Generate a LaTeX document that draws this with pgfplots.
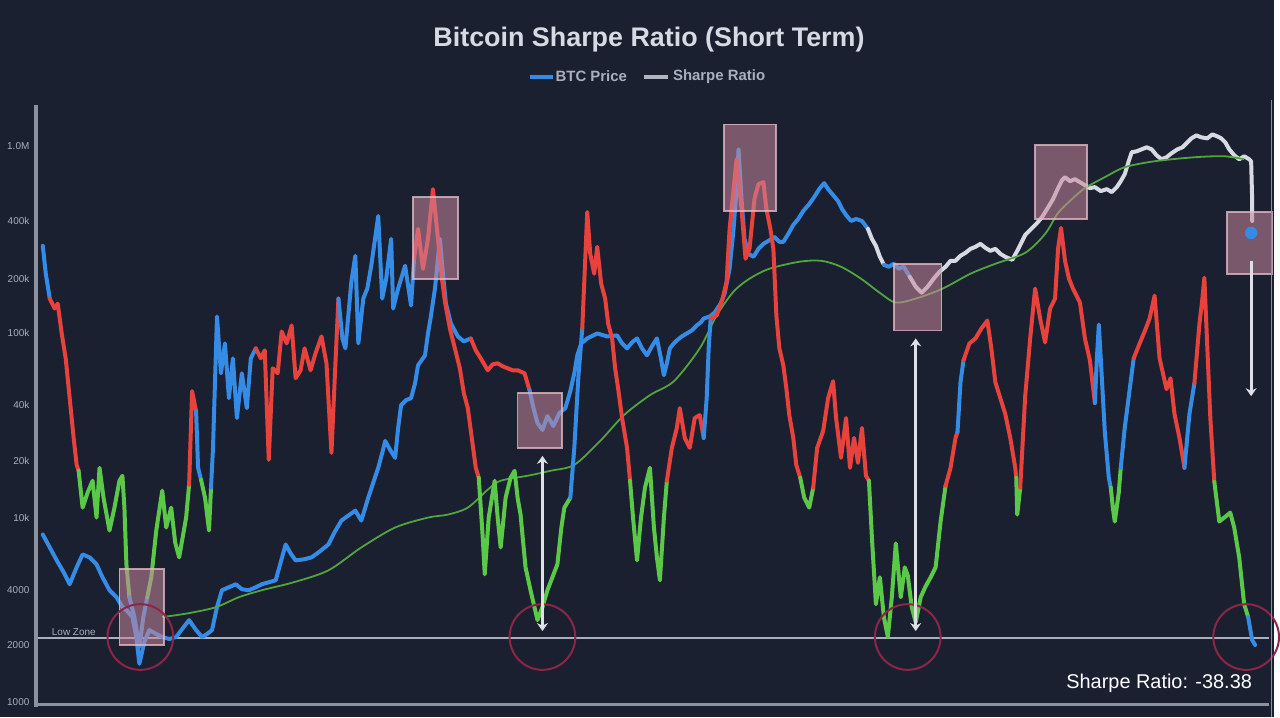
\documentclass[border=0pt]{standalone}
\usepackage{pgfplots}
\pgfplotsset{compat=1.18}
\usepackage{fontspec}
\setmainfont{Liberation Sans}
\usetikzlibrary{arrows.meta}
\definecolor{bgc}{RGB}{27,32,48}
\definecolor{bluec}{RGB}{52,140,230}
\definecolor{redc}{RGB}{232,66,60}
\definecolor{greenc}{RGB}{92,200,72}
\definecolor{whitec}{RGB}{215,218,226}
\definecolor{mac}{RGB}{82,165,62}
\definecolor{axc}{RGB}{140,145,158}
\definecolor{tickc}{RGB}{170,175,188}
\definecolor{boxf}{RGB}{200,135,158}
\definecolor{boxd}{RGB}{225,185,195}
\definecolor{circc}{RGB}{140,38,70}
\definecolor{arrc}{RGB}{222,224,230}
\begin{document}
\begin{tikzpicture}[x=1pt,y=1pt]
\fill[bgc] (0,0) rectangle (1280,720);
\begin{axis}[
  at={(36pt,10pt)}, anchor=south west,
  scale only axis, width=1239pt, height=605pt,
  xmin=36, xmax=1275, ymin=105, ymax=710, y dir=reverse,
  axis x line=none, axis y line*=left,
  y axis line style={draw=axc, line width=4pt, -},
  ytick={147,222,280,335,407,463,520,593,648,705},
  yticklabels={1.0M,400k,200k,100k,40k,20k,10k,4000,2000,1000},
  major tick length=0pt,
  yticklabel style={font=\fontsize{10}{11}\selectfont, text=tickc, anchor=east, xshift=-3pt},
  clip=false,
  seg/.style={line width=4pt, line join=round, line cap=round},
]
% baseline
\draw[tickc, line width=1.2pt] (38,641) -- (1275,641);
% price
\addplot[seg, bluec] coordinates {(43,537)(50,550)(57,563)(64,575)(70,587)(77,570)(83,557)(90,560)(97,567)(103,580)(110,593)(117,600)(123,610)(128,614)(133,620)(137,640)(140,667)(145,645)(150,633)(157,637)(163,640)(170,642)(177,640)(183,632)(190,623)(197,633)(203,640)(208,637)(213,633)(218,610)(223,593)(230,590)(237,587)(243,592)(250,593)(257,590)(263,587)(270,585)(277,583)(282,565)(287,547)(292,556)(297,563)(305,562)(313,560)(320,555)(330,547)(336,535)(343,523)(350,518)(357,513)(363,523)(370,500)(375,485)(380,470)(384,455)(387,443)(392,452)(397,460)(400,430)(403,407)(408,402)(413,400)(417,385)(420,367)(427,357)(430,335)(433,317)(437,290)(440,260)(442,240)(445,275)(448,305)(453,325)(460,338)(466,343)(473,340)};
\addplot[seg, redc] coordinates {(473,340)(478,352)(483,360)(490,372)(495,366)(500,365)(505,368)(510,370)(515,372)(520,372)(527,375)(532,392)};
\addplot[seg, bluec] coordinates {(532,392)(536,410)(540,425)(545,432)(550,418)(556,428)(562,415)(568,410)(573,393)(577,375)(580,357)(584,345)(590,340)(600,335)(610,338)(620,337)(625,345)(630,350)(635,344)(640,340)(645,350)(650,357)(655,348)(660,340)(664,360)(667,377)(670,365)(673,350)(677,345)(680,342)(685,338)(690,335)(695,332)(700,327)(704,324)(707,320)(713,318)(718,314)(724,305)(728,295)(733,270)(737,230)(740,190)(742,150)(745,200)(748,240)(752,255)(757,258)(762,250)(767,245)(772,242)(778,238)(783,243)(787,243)(792,235)(797,226)(802,220)(807,212)(813,205)(818,198)(823,190)(828,184)(832,190)(837,196)(842,202)(846,210)(850,216)(855,222)(860,220)(866,222)(872,230)};
\addplot[seg, whitec] coordinates {(872,230)(876,240)(880,247)(884,258)(888,266)};
\addplot[seg, bluec] coordinates {(888,266)(893,268)(898,265)(903,270)(908,268)(914,278)};
\addplot[seg, whitec] coordinates {(914,278)(920,288)(926,294)(932,288)(938,280)(944,273)(950,268)(955,262)(960,262)(965,257)(970,254)(975,250)(980,248)(985,245)(990,249)(995,252)(1000,250)(1005,255)(1010,258)(1017,261)(1022,252)(1026,244)(1030,236)(1036,230)(1042,224)(1047,218)(1052,210)(1058,200)(1063,189)(1067,181)(1070,178)(1075,182)(1080,180)(1085,183)(1090,186)(1095,189)(1100,188)(1106,192)(1112,190)(1117,193)(1122,188)(1126,182)(1130,175)(1134,162)(1137,153)(1142,152)(1147,150)(1152,148)(1157,150)(1162,156)(1167,160)(1172,158)(1177,154)(1183,150)(1188,148)(1193,143)(1197,139)(1202,136)(1207,138)(1213,139)(1218,135)(1223,137)(1227,139)(1231,143)(1235,150)(1240,156)(1245,160)(1250,157)(1255,160)(1257,162)(1258,200)(1258,222)};
% moving average
\addplot[mac, line width=1.8pt, smooth] coordinates {(163,620)(190,616)(217,610)(240,600)(263,593)(295,585)(330,573)(363,550)(397,530)(430,520)(450,517)(470,510)(490,492)(503,483)(530,478)(553,473)(577,467)(603,443)(627,417)(653,397)(677,383)(703,350)(720,317)(737,293)(753,280)(773,270)(803,263)(825,262)(845,268)(865,280)(885,295)(900,304)(920,300)(947,290)(975,275)(1000,265)(1030,254)(1050,235)(1063,214)(1077,200)(1090,189)(1110,178)(1130,168)(1160,162)(1200,158)(1230,157)(1250,160)};
% sharpe ratio segments
\addplot[seg, bluec] coordinates {(43,247)(46,275)(50,300)};
\addplot[seg, redc] coordinates {(50,300)(55,310)(58,305)(62,335)(66,360)(70,400)(74,440)(77,467)(79,473)};
\addplot[seg, greenc] coordinates {(79,473)(83,510)(88,495)(93,483)(97,520)(100,470)(104,500)(110,533)(115,510)(120,483)(123,478)(125,510)(127,567)(130,600)};
\addplot[seg, bluec] coordinates {(130,600)(135,620)(140,650)(144,620)(148,600)};
\addplot[seg, greenc] coordinates {(148,600)(152,580)(157,533)(163,493)(167,530)(172,510)(176,545)(180,560)(187,520)(190,487)};
\addplot[seg, redc] coordinates {(190,487)(193,393)(197,413)};
\addplot[seg, bluec] coordinates {(197,413)(199,470)(202,482)};
\addplot[seg, greenc] coordinates {(202,482)(206,500)(210,533)(212,490)};
\addplot[seg, bluec] coordinates {(212,490)(214,450)(218,318)(222,375)(226,345)(230,400)(234,360)(238,420)(243,375)(248,410)(252,360)(257,350)};
\addplot[seg, redc] coordinates {(257,350)(262,360)(266,352)(270,462)(274,370)(279,375)(283,333)(288,345)(293,327)(297,380)(302,372)(306,350)(312,372)(317,355)(323,338)(328,365)(333,455)(337,365)(340,300)};
\addplot[seg, bluec] coordinates {(340,300)(344,340)(347,350)(353,283)(357,257)(360,345)(365,300)(369,290)(373,267)(380,217)(384,300)(388,280)(393,240)(395,310)(400,290)(407,267)(413,307)(416,260)};
\addplot[seg, redc] coordinates {(416,260)(420,230)(425,270)(430,240)(435,190)(440,240)(444,280)(447,303)(452,330)(457,350)(462,370)(466,395)(470,410)(474,440)(478,470)(481,480)};
\addplot[seg, greenc] coordinates {(481,480)(485,540)(487,577)(491,520)(497,483)(500,520)(503,550)(508,500)(513,480)(517,473)(520,500)(523,517)(528,570)(533,593)(537,610)(540,623)(545,610)(550,593)(555,580)(560,567)(564,530)(567,510)(573,500)};
\addplot[seg, bluec] coordinates {(573,500)(577,450)(581,380)(585,330)};
\addplot[seg, redc] coordinates {(585,330)(588,260)(590,213)(593,255)(597,275)(600,248)(604,285)(608,300)(611,325)(615,340)(618,370)(621,390)(625,420)(630,450)(633,483)};
\addplot[seg, greenc] coordinates {(633,483)(636,520)(640,563)(644,520)(648,490)(653,470)(657,530)(660,560)(663,583)(667,520)(670,483)};
\addplot[seg, redc] coordinates {(670,483)(675,450)(680,430)(683,410)(688,440)(693,450)(698,420)(703,417)(707,440)};
\addplot[seg, bluec] coordinates {(707,440)(710,400)(712,350)(714,320)};
\addplot[seg, redc] coordinates {(714,320)(720,317)(726,300)(730,283)(733,230)(736,200)(740,160)(745,210)(749,260)(753,250)(758,200)(762,185)(767,183)(770,210)(774,230)(777,250)(780,317)(783,350)(787,367)(790,390)(793,417)(797,440)(800,467)(804,480)};
\addplot[seg, greenc] coordinates {(804,480)(808,500)(813,510)(817,490)};
\addplot[seg, redc] coordinates {(817,490)(821,450)(827,433)(832,400)(837,383)(840,420)(845,460)(850,420)(854,470)(858,440)(862,465)(866,430)(870,478)(873,483)};
\addplot[seg, greenc] coordinates {(873,483)(876,540)(880,607)(884,580)(888,620)(892,640)(896,600)(900,546)(905,600)(909,570)(912,578)(916,610)(920,625)(925,600)(930,589)(935,580)(940,570)(945,524)(950,488)};
\addplot[seg, redc] coordinates {(950,488)(955,470)(960,440)(962,434)};
\addplot[seg, bluec] coordinates {(962,434)(965,384)(968,362)};
\addplot[seg, redc] coordinates {(968,362)(974,345)(980,340)(986,330)(992,322)(996,350)(1000,384)(1005,400)(1010,416)(1015,440)(1020,470)(1021,480)};
\addplot[seg, greenc] coordinates {(1021,480)(1022,517)(1025,490)};
\addplot[seg, redc] coordinates {(1025,490)(1030,398)(1035,340)(1040,290)(1045,320)(1050,344)(1055,310)(1060,300)(1063,250)(1066,229)(1070,262)(1074,280)(1078,290)(1085,304)(1090,340)(1095,362)(1100,405)};
\addplot[seg, bluec] coordinates {(1100,405)(1102,360)(1104,326)(1107,380)(1110,434)(1114,480)(1116,490)};
\addplot[seg, greenc] coordinates {(1116,490)(1118,510)(1120,524)(1124,495)(1126,470)};
\addplot[seg, bluec] coordinates {(1126,470)(1130,430)(1135,391)(1139,360)};
\addplot[seg, redc] coordinates {(1139,360)(1145,345)(1150,333)(1155,320)(1160,297)(1165,360)(1172,391)(1176,380)(1180,416)(1185,440)(1190,470)};
\addplot[seg, bluec] coordinates {(1190,470)(1195,416)(1200,385)};
\addplot[seg, redc] coordinates {(1200,385)(1205,326)(1208,300)(1210,279)(1213,350)(1216,420)(1220,484)};
\addplot[seg, greenc] coordinates {(1220,484)(1225,524)(1230,520)(1236,515)(1240,530)(1245,560)(1250,607)(1254,620)};
\addplot[seg, bluec] coordinates {(1254,620)(1258,643)(1261,648)};
\addplot[only marks, mark=*, mark size=6pt, bluec] coordinates {(1257,234)};
% boxes
\foreach \a/\b/\c/\d in {120/572/165/648, 415/198/460/280, 520/395/565/450, 727/125/780/212, 898/265/946/332, 1040/146/1092/220, 1233/213/1278/275}{
  \edef\tmp{\noexpand\draw[fill=boxf, fill opacity=0.55, draw=boxd, draw opacity=0.8, line width=1.8pt] (axis cs:\a,\b) rectangle (axis cs:\c,\d);}
  \tmp
}
% circles
\foreach \cx in {141,545,912,1252}{
  \edef\tmp{\noexpand\draw[circc, line width=2pt] (axis cs:\cx,640) circle[radius=33pt];}
  \tmp
}
% arrows
\draw[arrc, line width=3pt, {Stealth[length=8pt,width=11pt]}-{Stealth[length=8pt,width=11pt]}] (545,458) -- (545,634);
\draw[arrc, line width=3pt, {Stealth[length=8pt,width=11pt]}-{Stealth[length=8pt,width=11pt]}] (920,340) -- (920,634);
\draw[arrc, line width=3pt, -{Stealth[length=8pt,width=11pt]}] (1257,262) -- (1257,398);
% bottom axis line
\draw[axc, line width=3pt] (38,708) -- (1275,708);
\end{axis}
% right border
\draw[axc, line width=1pt] (1277,620) -- (1277,0);
% title and legend
\node[text=whitec, font=\fontsize{27}{30}\selectfont\bfseries] at (652,680) {Bitcoin Sharpe Ratio (Short Term)};
\draw[bluec, line width=4pt] (532,643) -- (556,643);
\node[anchor=west, text=tickc, font=\fontsize{15}{17}\selectfont\bfseries, inner sep=1pt] at (557,643) {BTC Price};
\draw[whitec!80!bgc, line width=4pt] (647,643) -- (671,643);
\node[anchor=west, text=tickc, font=\fontsize{15}{17}\selectfont\bfseries, inner sep=1pt] at (675,643) {Sharpe Ratio};
% annotations text
\node[anchor=west, text=tickc, font=\fontsize{10}{11}\selectfont, inner sep=0pt] at (52,85) {Low Zone};
\node[anchor=east, text=white, font=\fontsize{20}{22}\selectfont, inner sep=0pt] at (1258,33) {Sharpe Ratio: -38.38};
\end{tikzpicture}
\end{document}
